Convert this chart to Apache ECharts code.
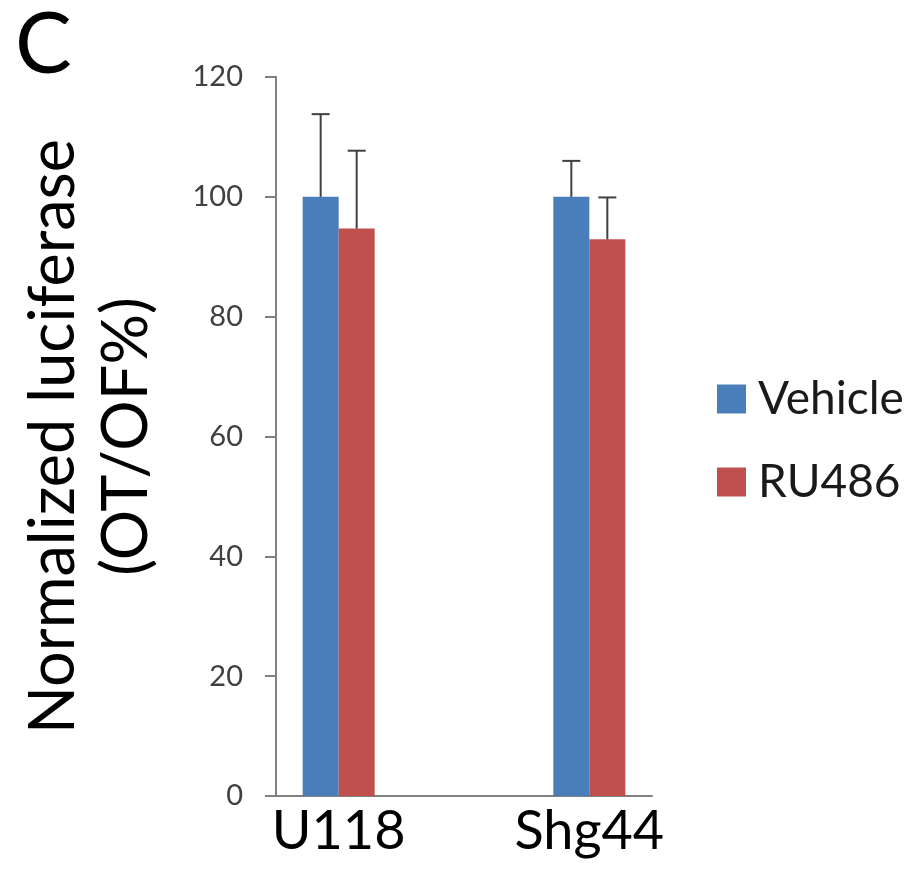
<!DOCTYPE html>
<html>
<head>
<meta charset="utf-8">
<script src="https://cdn.jsdelivr.net/npm/echarts@6/dist/echarts.min.js"></script>
<style>html,body{margin:0;padding:0;background:#fff}#c{width:917px;height:871px}</style>
</head>
<body>
<div id="c"></div>
<script>
const categories = ['U118', 'Shg44'];
const seriesNames = ['Vehicle', 'RU486'];
const vehicleValues = [100, 100];
const ru486Values = [94.7, 92.9];
const vehicleSD = [13.8, 6.0];
const ru486SD = [13.0, 7.0];
const yTicks = [0, 20, 40, 60, 80, 100, 120];

const FONT = 'Lato, "Open Sans", sans-serif';
const BAR_W = 36;
const colors = ['#4a7ebb', '#c0504d'];

// axis categories with an empty spacer slot between the two groups
const axisCats = [categories[0], '', categories[1]];
function spaced(arr) { return [arr[0], '-', arr[1]]; }

function errData(vals, sd, sign) {
  return categories.map((c, i) => [c, vals[i], vals[i] + sd[i], sign]);
}

function renderErr(params, api) {
  const sign = api.value(3);
  const base = api.coord([api.value(0), api.value(1)]);
  const top = api.coord([api.value(0), api.value(2)]);
  const x = base[0] + sign * BAR_W / 2;
  const cap = 9;
  const st = { stroke: '#404040', lineWidth: 2 };
  return {
    type: 'group',
    children: [
      { type: 'line', shape: { x1: x, y1: base[1], x2: x, y2: top[1] }, style: st },
      { type: 'line', shape: { x1: x - cap, y1: top[1], x2: x + cap, y2: top[1] }, style: st }
    ]
  };
}

const chart = echarts.init(document.getElementById('c'));
chart.setOption({
  animation: false,
  backgroundColor: '#fff',
  title: {
    text: 'C', left: 10, top: -2,
    textStyle: { fontFamily: FONT, fontSize: 85, fontWeight: 'normal', color: '#000' }
  },
  legend: {
    orient: 'vertical', left: 712, top: 371,
    icon: 'rect', itemWidth: 29, itemHeight: 29, itemGap: 37,
    data: seriesNames,
    textStyle: { fontFamily: FONT, fontSize: 46, color: '#1a1a1a', padding: [0, 0, 0, 7] }
  },
  grid: { left: 276, right: 265, top: 77, bottom: 75, containLabel: false },
  xAxis: {
    type: 'category', data: axisCats,
    axisLine: { lineStyle: { color: '#808080', width: 2 } },
    axisTick: { show: false },
    axisLabel: { fontFamily: FONT, fontSize: 54, color: '#000', margin: 9, interval: 0 }
  },
  yAxis: {
    type: 'value', min: yTicks[0], max: yTicks[yTicks.length - 1], interval: 20,
    name: 'Normalized luciferase\n(OT/OF%)',
    nameLocation: 'middle', nameGap: 113, nameRotate: 90,
    nameTextStyle: { fontFamily: FONT, fontSize: 63, color: '#000', lineHeight: 73 },
    axisLine: { show: true, lineStyle: { color: '#808080', width: 2 } },
    axisTick: { show: true, length: 11, lineStyle: { color: '#808080', width: 2 } },
    splitLine: { show: false },
    axisLabel: { fontFamily: FONT, fontSize: 29, color: '#404040', margin: 33 }
  },
  series: [
    { name: seriesNames[0], type: 'bar', data: spaced(vehicleValues), barWidth: BAR_W, barGap: '0%',
      itemStyle: { color: colors[0] } },
    { name: seriesNames[1], type: 'bar', data: spaced(ru486Values), barWidth: BAR_W, barGap: '0%',
      itemStyle: { color: colors[1] } },
    { type: 'custom', renderItem: renderErr, data: errData(vehicleValues, vehicleSD, -1),
      encode: { x: 0, y: [1, 2] }, z: 5, silent: true },
    { type: 'custom', renderItem: renderErr, data: errData(ru486Values, ru486SD, 1),
      encode: { x: 0, y: [1, 2] }, z: 5, silent: true }
  ]
});
</script>
</body>
</html>
